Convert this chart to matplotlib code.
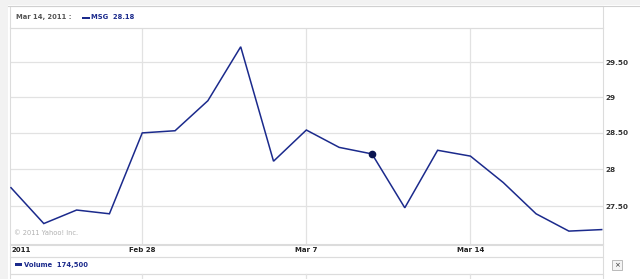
import matplotlib
matplotlib.use("Agg")
import matplotlib.pyplot as plt
from matplotlib.patches import Rectangle
from matplotlib.lines import Line2D

# ---- data ----
dates = ["Feb 22", "Feb 23", "Feb 24", "Feb 25", "Feb 28", "Mar 1", "Mar 2", "Mar 3",
         "Mar 4", "Mar 7", "Mar 8", "Mar 9", "Mar 10", "Mar 11", "Mar 14", "Mar 15",
         "Mar 16", "Mar 17", "Mar 18"]
prices = [27.75, 27.27, 27.45, 27.40, 28.50, 28.53, 28.95, 29.72, 28.11, 28.54,
          28.30, 28.21, 27.48, 28.26, 28.18, 27.82, 27.40, 27.17, 27.19]
marker_index = 11
ytick_vals = [27.5, 28, 28.5, 29, 29.5]
ytick_labels = ["27.50", "28", "28.50", "29", "29.50"]
xtick_dates = ["Feb 28", "Mar 7", "Mar 14"]
header_date = "Mar 14, 2011 :"
header_series = "MSG  28.18"
volume_label = "Volume  174,500"

W, H = 640, 279
fig = plt.figure(figsize=(W / 100, H / 100), dpi=100)
fig.patch.set_facecolor("white")

def fx(px):
    return px / W

def fy(py):
    return 1 - py / H

NAVY = "#1b2a8c"
GRID = "#e2e2e2"
BORDER = "#dcdcdc"

# background frame bands
fig.patches.append(Rectangle((0, fy(279)), fx(8), 1, transform=fig.transFigure,
                             facecolor="#f2f2f2", edgecolor="none", zorder=0))
fig.patches.append(Rectangle((0, fy(5)), 1, fy(0) - fy(5), transform=fig.transFigure,
                             facecolor="#f2f2f2", edgecolor="none", zorder=0))
fig.lines.append(Line2D([fx(8), 1], [fy(5.5), fy(5.5)], transform=fig.transFigure,
                        color="#d0d0d0", lw=0.8))

# boxes: header, x-label row, volume label row, volume panel
for (y0, y1) in [(5.5, 27.5), (244.5, 256.5), (256.5, 273.5), (273.5, 285)]:
    fig.patches.append(Rectangle((fx(10), fy(y1)), fx(603) - fx(10), fy(y0) - fy(y1),
                                 transform=fig.transFigure, facecolor="none",
                                 edgecolor=BORDER, lw=0.8, zorder=1))

# main axes
ax = fig.add_axes([fx(10), fy(244), fx(603) - fx(10), fy(27.5) - fy(244)])
xs = list(range(len(dates)))
ax.set_yscale("log")
ax.set_ylim(27.0, 30.0)
ax.set_xlim(-0.03, len(dates) - 1 + 0.04)
ax.plot(xs, prices, color=NAVY, lw=1.1, zorder=3, solid_joinstyle="miter")
ax.plot([xs[marker_index]], [prices[marker_index]], "o", color="#0a1450", ms=4.5, zorder=4)

ax.set_yticks(ytick_vals)
ax.set_yticklabels(ytick_labels)
ax.yaxis.set_minor_locator(matplotlib.ticker.NullLocator())
ax.yaxis.set_minor_formatter(matplotlib.ticker.NullFormatter())
ax.yaxis.tick_right()
ax.tick_params(axis="y", length=0, pad=1.5, labelsize=5.2, labelcolor="#333333")
for lab in ax.get_yticklabels():
    lab.set_fontweight("bold")
ax.set_xticks([dates.index(d) for d in xtick_dates])
ax.tick_params(axis="x", length=0, labelbottom=False)
ax.grid(True, color=GRID, lw=0.9)
ax.set_axisbelow(True)
for s in ax.spines.values():
    s.set_color(BORDER)
    s.set_linewidth(0.8)

ax.text(0.006, 0.035, "\u00a9 2011 Yahoo! Inc.", transform=ax.transAxes,
        fontsize=4.8, color="#b0b0b0", ha="left", va="bottom")

# x labels row
fig.text(fx(11), fy(250.5), "2011", fontsize=5.0, fontweight="bold", color="#222222",
         ha="left", va="center")
for d in xtick_dates:
    xd = ax.transData.transform((dates.index(d), 28))[0]
    fig.text(xd / (W), fy(250.5), d, fontsize=5.0, fontweight="bold", color="#222222",
             ha="center", va="center")

# header
fig.text(fx(16), fy(17), header_date, fontsize=4.9, fontweight="bold", color="#555555",
         ha="left", va="center")
fig.patches.append(Rectangle((fx(82), fy(19)), fx(8), fy(17) - fy(19), transform=fig.transFigure,
                             facecolor=NAVY, edgecolor="none"))
fig.text(fx(91), fy(17), header_series, fontsize=4.9, fontweight="bold", color=NAVY,
         ha="left", va="center")

# volume label
fig.patches.append(Rectangle((fx(15), fy(266)), fx(7), fy(263) - fy(266), transform=fig.transFigure,
                             facecolor=NAVY, edgecolor="none"))
fig.text(fx(24), fy(265), volume_label, fontsize=4.9, fontweight="bold", color=NAVY,
         ha="left", va="center")

# volume panel gridlines
for d in xtick_dates:
    xd = ax.transData.transform((dates.index(d), 28))[0] / W
    fig.lines.append(Line2D([xd, xd], [fy(279), fy(273.5)], transform=fig.transFigure,
                            color=GRID, lw=0.9))

# close button
fig.patches.append(Rectangle((fx(612), fy(270)), fx(10), fy(260) - fy(270), transform=fig.transFigure,
                             facecolor="#f4f4f4", edgecolor="#b0b0b0", lw=0.6))
fig.text(fx(617), fy(265), "\u00d7", fontsize=5, color="#333333", ha="center", va="center")

fig.savefig("out.png", dpi=100)
